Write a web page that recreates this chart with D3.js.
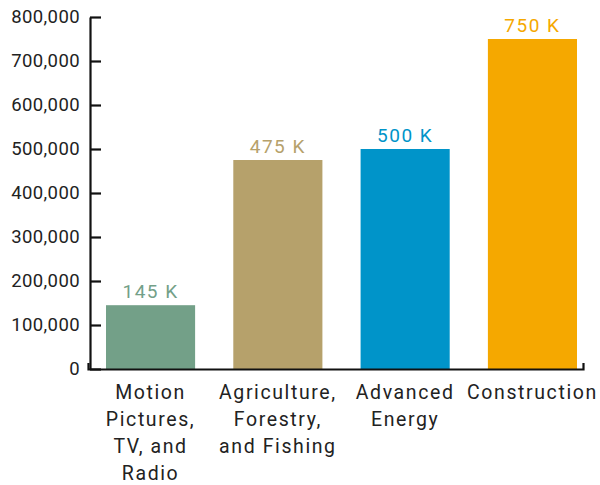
<!DOCTYPE html>
<html><head><meta charset="utf-8">
<script src="https://cdn.jsdelivr.net/npm/d3@7"></script>
<style>
html,body{margin:0;padding:0;background:#fff;}
text{font-family:Roboto,"DejaVu Sans",sans-serif;}
</style></head>
<body><svg id="chart" width="600" height="485"></svg>
<script>
const categories = ["Motion Pictures, TV, and Radio", "Agriculture, Forestry, and Fishing", "Advanced Energy", "Construction"];
const categoryLines = [["Motion", "Pictures,", "TV, and", "Radio"], ["Agriculture,", "Forestry,", "and Fishing"], ["Advanced", "Energy"], ["Construction"]];
const values = [145000, 475000, 500000, 750000];
const valueLabels = ["145 K", "475 K", "500 K", "750 K"];
const colors = ["#73a088", "#b6a16b", "#0094c9", "#f5a800"];
const yTicks = [0, 100000, 200000, 300000, 400000, 500000, 600000, 700000, 800000];

const svg = d3.select("#chart");
const axisX0 = 90, axisX1 = 583, y0 = 369, yTop = 17;

const x = d3.scaleBand().domain(categories).range([106, 577]).paddingInner(0.3).paddingOuter(0);
const y = d3.scaleLinear().domain([0, 800000]).range([y0, yTop]);

// bars
svg.append("g").selectAll("rect").data(values).join("rect")
  .attr("x", (d, i) => x(categories[i]))
  .attr("width", x.bandwidth())
  .attr("y", d => y(d))
  .attr("height", d => y0 - y(d))
  .attr("fill", (d, i) => colors[i]);

// value labels
svg.append("g").selectAll("text").data(values).join("text")
  .attr("x", (d, i) => x(categories[i]) + x.bandwidth() / 2)
  .attr("y", d => y(d) - 7)
  .attr("text-anchor", "middle")
  .attr("font-size", 19)
  .attr("letter-spacing", 1.5)
  .attr("fill", (d, i) => colors[i])
  .text((d, i) => valueLabels[i]);

// y axis
const yAxis = d3.axisLeft(y).tickValues(yTicks).tickFormat(d3.format(",")).tickSize(-11).tickPadding(10).tickSizeOuter(0);
const gy = svg.append("g").attr("transform", `translate(${axisX0},0)`).call(yAxis);
gy.select(".domain").attr("stroke", "#111").attr("stroke-width", 2.2);
gy.selectAll(".tick line").attr("stroke", "#111").attr("stroke-width", 2.2);
gy.selectAll(".tick text").attr("font-size", 18.5).attr("fill", "#222")
  .attr("font-family", "Roboto, sans-serif").attr("letter-spacing", 0.4);

// x axis
const xAxisScale = d3.scaleLinear().domain([0, 1]).range([axisX0 - 2, axisX1]);
const xAxis = d3.axisBottom(xAxisScale).tickValues([]).tickSizeOuter(-6);
const gx = svg.append("g").attr("transform", `translate(0,${y0})`).call(xAxis);
gx.select(".domain").attr("stroke", "#111").attr("stroke-width", 2.2);

// category labels
const lab = svg.append("g").selectAll("text").data(categories).join("text")
  .attr("text-anchor", "middle")
  .attr("font-size", 19.5)
  .attr("letter-spacing", 1.6)
  .attr("fill", "#222")
  .attr("transform", (d) => `translate(${x(d) + x.bandwidth() / 2},${y0 + 30})`);
lab.each(function(d, i) {
  d3.select(this).selectAll("tspan").data(categoryLines[i]).join("tspan")
    .attr("x", 0).attr("dy", (t, j) => j === 0 ? 0 : 27).text(t => t);
});
</script></body></html>
